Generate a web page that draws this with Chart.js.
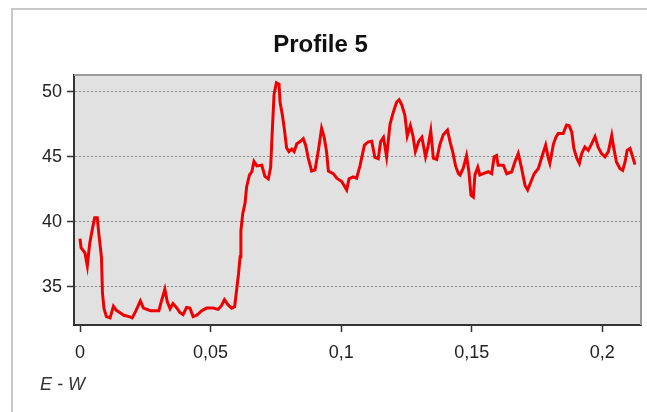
<!DOCTYPE html>
<html>
<head>
<meta charset="utf-8">
<script src="https://cdn.jsdelivr.net/npm/chart.js@4/dist/chart.umd.min.js"></script>
<style>
  html, body { margin: 0; padding: 0; background: #fff; }
  canvas { display: block; }
</style>
</head>
<body>
<canvas id="profil" width="647" height="412"></canvas>
<script>
// Profil E - W : distance (x) et altitude (y)
const distance = [
  0.0000, 0.0004, 0.0019, 0.0028, 0.0037, 0.0047, 0.0056, 0.0066, 0.0073, 0.0082,
  0.0086, 0.0092, 0.0101, 0.0115, 0.0121, 0.0128, 0.0138, 0.0149, 0.0168, 0.0188,
  0.0200, 0.0213, 0.0231, 0.0243, 0.0270, 0.0302, 0.0312, 0.0325, 0.0334, 0.0345,
  0.0356, 0.0369, 0.0383, 0.0395, 0.0408, 0.0421, 0.0433, 0.0447, 0.0466, 0.0485,
  0.0510, 0.0529, 0.0542, 0.0553, 0.0567, 0.0581, 0.0592, 0.0600, 0.0607, 0.0613,
  0.0616, 0.0623, 0.0632, 0.0638, 0.0649, 0.0658, 0.0666, 0.0677, 0.0696, 0.0708,
  0.0721, 0.0730, 0.0736, 0.0743, 0.0752, 0.0762, 0.0766, 0.0775, 0.0782, 0.0791,
  0.0800, 0.0811, 0.0820, 0.0830, 0.0842, 0.0855, 0.0864, 0.0874, 0.0887, 0.0900,
  0.0912, 0.0925, 0.0935, 0.0944, 0.0951, 0.0970, 0.0983, 0.1002, 0.1021, 0.1030,
  0.1046, 0.1059, 0.1072, 0.1089, 0.1104, 0.1117, 0.1129, 0.1142, 0.1151, 0.1162,
  0.1174, 0.1187, 0.1199, 0.1212, 0.1222, 0.1232, 0.1244, 0.1253, 0.1265, 0.1275,
  0.1284, 0.1297, 0.1309, 0.1323, 0.1333, 0.1343, 0.1353, 0.1366, 0.1378, 0.1391,
  0.1407, 0.1417, 0.1428, 0.1438, 0.1449, 0.1455, 0.1467, 0.1480, 0.1489, 0.1497,
  0.1506, 0.1512, 0.1523, 0.1531, 0.1544, 0.1563, 0.1576, 0.1586, 0.1595, 0.1601,
  0.1621, 0.1634, 0.1653, 0.1665, 0.1678, 0.1691, 0.1704, 0.1714, 0.1727, 0.1739,
  0.1755, 0.1770, 0.1783, 0.1793, 0.1799, 0.1813, 0.1822, 0.1831, 0.1850, 0.1863,
  0.1873, 0.1883, 0.1891, 0.1902, 0.1912, 0.1921, 0.1933, 0.1946, 0.1959, 0.1972,
  0.1984, 0.1997, 0.2010, 0.2023, 0.2036, 0.2044, 0.2054, 0.2067, 0.2078, 0.2087,
  0.2095, 0.2106, 0.2116, 0.2125
];
const altitude = [
  38.7, 38.0, 37.6, 36.6, 38.3, 39.4, 40.3, 40.3, 38.9, 37.3,
  34.5, 33.3, 32.7, 32.6, 33.0, 33.5, 33.2, 33.05, 32.8, 32.7,
  32.6, 33.1, 33.9, 33.35, 33.15, 33.15, 33.9, 34.8, 33.85, 33.3,
  33.7, 33.4, 33.0, 32.85, 33.4, 33.35, 32.7, 32.8, 33.15, 33.35,
  33.35, 33.25, 33.55, 34.0, 33.6, 33.35, 33.45, 34.8, 36.0, 37.3,
  39.3, 40.6, 41.45, 42.7, 43.6, 43.85, 44.65, 44.3, 44.35, 43.5,
  43.3, 44.2, 46.9, 49.8, 50.7, 50.6, 49.2, 48.2, 47.2, 45.7,
  45.4, 45.6, 45.4, 46.0, 46.15, 46.4, 45.9, 44.9, 43.9, 44.0,
  45.4, 47.2, 46.5, 45.4, 43.9, 43.7, 43.35, 43.1, 42.45, 43.3,
  43.45, 43.35, 44.3, 45.9, 46.15, 46.2, 44.95, 44.85, 46.15, 46.5,
  45.0, 47.5, 48.4, 49.2, 49.4, 49.0, 48.2, 46.6, 47.4, 46.6,
  45.4, 46.2, 46.5, 45.0, 45.85, 47.0, 44.9, 44.8, 45.95, 46.7,
  47.05, 46.15, 45.3, 44.3, 43.7, 43.6, 44.1, 45.1, 43.85, 42.05,
  41.9, 43.6, 44.2, 43.6, 43.7, 43.85, 43.7, 45.0, 45.1, 44.35,
  44.35, 43.7, 43.85, 44.6, 45.25, 44.1, 42.8, 42.45, 43.1, 43.7,
  44.1, 45.1, 45.9, 44.9, 44.5, 46.0, 46.5, 46.8, 46.8, 47.45,
  47.4, 46.9, 45.65, 44.9, 44.5, 45.25, 45.75, 45.5, 46.0, 46.55,
  45.75, 45.25, 45.0, 45.4, 46.65, 45.65, 44.6, 44.1, 43.95, 44.6,
  45.5, 45.65, 45.0, 44.4
];
const yTicks = [35, 40, 45, 50];
const xTicks = [0, 0.05, 0.1, 0.15, 0.2];

const fontFamily = '"Liberation Sans", Arial, sans-serif';

// fond gris de la zone de tracé + cadre haut/droite, cadre du panneau, libellé E - W
const plotFrame = {
  id: 'plotFrame',
  beforeDraw(chart) {
    const { ctx, chartArea: a } = chart;
    ctx.save();
    ctx.fillStyle = '#e1e1e1';
    ctx.fillRect(a.left, a.top, a.right - a.left, a.bottom - a.top);
    ctx.restore();
  },
  afterDraw(chart) {
    const { ctx, chartArea: a } = chart;
    ctx.save();
    ctx.strokeStyle = '#9a9a9a';
    ctx.lineWidth = 2;
    ctx.beginPath();
    ctx.moveTo(a.left, a.top);
    ctx.lineTo(a.right, a.top);
    ctx.lineTo(a.right, a.bottom);
    ctx.stroke();

    ctx.strokeStyle = '#c8c8c8';
    ctx.lineWidth = 2;
    ctx.beginPath();
    ctx.moveTo(12, 412);
    ctx.lineTo(12, 9);
    ctx.lineTo(647, 9);
    ctx.stroke();

    ctx.fillStyle = '#333';
    ctx.font = 'italic 18px ' + fontFamily;
    ctx.textBaseline = 'middle';
    ctx.fillText('E - W', 40, 385);
    ctx.restore();
  }
};

new Chart(document.getElementById('profil'), {
  type: 'line',
  data: {
    datasets: [{
      data: distance.map((d, i) => ({ x: d, y: altitude[i] })),
      borderColor: '#ee0000',
      borderWidth: 3,
      pointRadius: 0,
      tension: 0,
      fill: false
    }]
  },
  options: {
    responsive: false,
    animation: false,
    layout: { padding: { left: 0, right: 6, top: 0, bottom: 0 } },
    plugins: {
      legend: { display: false },
      tooltip: { enabled: false },
      title: {
        display: true,
        text: 'Profile 5',
        color: '#111',
        font: { family: fontFamily, size: 24, weight: 'bold' },
        padding: { top: 30.6, bottom: 15.6 }
      }
    },
    scales: {
      x: {
        type: 'linear',
        min: -0.0023,
        max: 0.2148,
        afterFit: (s) => { s.height = 87; },
        afterBuildTicks: (s) => { s.ticks = xTicks.map(v => ({ value: v })); },
        ticks: {
          includeBounds: false,
          color: '#222',
          padding: 10,
          maxRotation: 0,
          font: { family: fontFamily, size: 18 },
          callback: (v) => String(+v.toFixed(2)).replace('.', ',')
        },
        grid: { drawOnChartArea: false, tickLength: 7, tickColor: '#333', tickWidth: 1.5 },
        border: { display: true, color: '#333', width: 2 }
      },
      y: {
        min: 32.05,
        max: 51.3,
        afterFit: (s) => { s.width = 74; },
        afterBuildTicks: (s) => { s.ticks = yTicks.map(v => ({ value: v })); },
        ticks: {
          includeBounds: false,
          color: '#222',
          padding: 5,
          font: { family: fontFamily, size: 18 }
        },
        grid: { color: '#8a8a8a', lineWidth: 1, tickLength: 7, tickColor: '#333', tickWidth: 1.5 },
        border: { display: true, color: '#333', width: 2, dash: [2, 2] }
      }
    }
  },
  plugins: [plotFrame]
});
</script>
</body>
</html>
